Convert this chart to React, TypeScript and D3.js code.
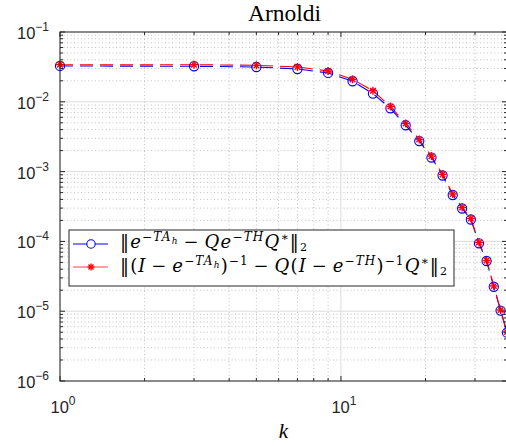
import * as d3 from 'd3'

// k values (odd) and the two error curves
const kValues = [1, 3, 5, 7, 9, 11, 13, 15, 17, 19, 21, 23, 25, 27, 29, 31, 33, 35, 37, 39]
const expError = [
  3.26e-2, 3.23e-2, 3.15e-2, 2.95e-2, 2.59e-2, 1.97e-2, 1.31e-2, 8.07e-3, 4.61e-3, 2.74e-3,
  1.59e-3, 8.79e-4, 4.62e-4, 2.96e-4, 2.06e-4, 9.4e-5, 5.24e-5, 2.24e-5, 1.02e-5, 4.92e-6,
]
const resolventError = [
  3.4e-2, 3.4e-2, 3.33e-2, 3.16e-2, 2.76e-2, 2.1e-2, 1.44e-2, 8.57e-3, 4.89e-3, 2.88e-3,
  1.67e-3, 9.14e-4, 4.78e-4, 3.06e-4, 2.13e-4, 9.64e-5, 5.32e-5, 2.3e-5, 1.04e-5, 5.04e-6,
]

const yTickExps = [-6, -5, -4, -3, -2, -1]
const xTickExps = [0, 1]

// legend labels as math pieces: l = 0 base, 1 superscript, 2 sub of superscript, 3 subscript
type Piece = { t: string; l: number; i?: boolean }
const OP = '\u2009−\u2009'
const legendExp: Piece[] = [
  { t: '‖', l: 0 },
  { t: 'e', l: 0, i: true },
  { t: '−', l: 1 },
  { t: 'TA', l: 1, i: true },
  { t: 'h', l: 2, i: true },
  { t: OP, l: 0 },
  { t: 'Qe', l: 0, i: true },
  { t: '−', l: 1 },
  { t: 'TH', l: 1, i: true },
  { t: 'Q', l: 0, i: true },
  { t: '∗', l: 1 },
  { t: '‖', l: 0 },
  { t: '2', l: 3 },
]
const legendRes: Piece[] = [
  { t: '‖(', l: 0 },
  { t: 'I', l: 0, i: true },
  { t: OP, l: 0 },
  { t: 'e', l: 0, i: true },
  { t: '−', l: 1 },
  { t: 'TA', l: 1, i: true },
  { t: 'h', l: 2, i: true },
  { t: ')', l: 0 },
  { t: '−1', l: 1 },
  { t: OP, l: 0 },
  { t: 'Q', l: 0, i: true },
  { t: '(', l: 0 },
  { t: 'I', l: 0, i: true },
  { t: OP, l: 0 },
  { t: 'e', l: 0, i: true },
  { t: '−', l: 1 },
  { t: 'TH', l: 1, i: true },
  { t: ')', l: 0 },
  { t: '−1', l: 1 },
  { t: 'Q', l: 0, i: true },
  { t: '∗', l: 1 },
  { t: '‖', l: 0 },
  { t: '2', l: 3 },
]

const W = 506
const H = 446
const left = 60
const right = 507
const top = 32
const bottom = 381

const AXIS = '#262626'
const SANS = '"Liberation Sans", Arial, sans-serif'
const SERIF = '"Liberation Serif", "Times New Roman", serif'
const MATH = '"DejaVu Serif", serif'

const levelShift = [0, -7.5, -4, 3]
const levelSize = [18, 12, 9, 11]

function MathText({ x, y, pieces, width }: { x: number; y: number; pieces: Piece[]; width?: number }) {
  let prev = 0
  const fit = width ? { textLength: width, lengthAdjust: 'spacing' } : {}
  return (
    <text x={x} y={y} fontFamily={MATH} fill="#000" style={{ whiteSpace: 'pre' }} {...fit}>
      {pieces.map((p, idx) => {
        const dy = levelShift[p.l] - levelShift[prev]
        prev = p.l
        return (
          <tspan key={idx} dy={dy} fontSize={levelSize[p.l]} fontStyle={p.i ? 'italic' : 'normal'}>
            {p.t}
          </tspan>
        )
      })}
    </text>
  )
}

function Asterisk({ cx, cy, r, color, w }: { cx: number; cy: number; r: number; color: string; w: number }) {
  const d = r * Math.SQRT1_2
  return (
    <g stroke={color} strokeWidth={w}>
      <line x1={cx - r} y1={cy} x2={cx + r} y2={cy} />
      <line x1={cx} y1={cy - r} x2={cx} y2={cy + r} />
      <line x1={cx - d} y1={cy - d} x2={cx + d} y2={cy + d} />
      <line x1={cx - d} y1={cy + d} x2={cx + d} y2={cy - d} />
    </g>
  )
}

export default function App() {
  const x = d3.scaleLog().domain([1, 39]).range([left, right])
  const y = d3.scaleLog().domain([1e-6, 1e-1]).range([bottom, top])

  const xMinor: number[] = []
  for (let m = 2; m <= 9; m++) xMinor.push(m)
  for (let m = 20; m <= 30; m += 10) xMinor.push(m)
  const yMinor: number[] = []
  for (let e = -6; e < -1; e++) for (let m = 2; m <= 9; m++) yMinor.push(m * Math.pow(10, e))

  const line = d3
    .line<number>()
    .x((_, i) => x(kValues[i]))
    .y((d) => y(d))

  return (
    <svg
      width={W}
      height={H}
      viewBox={`0 0 ${W} ${H}`}
      style={{ position: 'absolute', left: 0, top: 0, background: '#fff' }}
    >
      <rect x={0} y={0} width={W} height={H} fill="#fff" />

      {/* minor grid */}
      <g stroke="#b4b4b4" strokeWidth={0.8} strokeDasharray="1,2.5">
        {xMinor.map((v) => (
          <line key={'gx' + v} x1={x(v)} x2={x(v)} y1={top} y2={bottom} />
        ))}
        {yMinor.map((v) => (
          <line key={'gy' + v} x1={left} x2={right} y1={y(v)} y2={y(v)} />
        ))}
      </g>
      {/* major grid */}
      <g stroke="#dcdcdc" strokeWidth={1}>
        {xTickExps.map((e) => (
          <line key={'Gx' + e} x1={x(10 ** e)} x2={x(10 ** e)} y1={top} y2={bottom} />
        ))}
        {yTickExps.map((e) => (
          <line key={'Gy' + e} x1={left} x2={right} y1={y(10 ** e)} y2={y(10 ** e)} />
        ))}
      </g>

      {/* series */}
      <path d={line(expError) ?? ''} fill="none" stroke="#0000ff" strokeWidth={1.1} strokeDasharray="13,7" />
      <path d={line(resolventError) ?? ''} fill="none" stroke="#ff0000" strokeWidth={1.1} strokeDasharray="13,7" />
      {expError.map((v, i) => (
        <circle key={'c' + i} cx={x(kValues[i])} cy={y(v)} r={4.6} fill="none" stroke="#0000ff" strokeWidth={1.1} />
      ))}
      {resolventError.map((v, i) => (
        <Asterisk key={'s' + i} cx={x(kValues[i])} cy={y(v)} r={4} color="#ff0000" w={1.4} />
      ))}

      {/* axes box and ticks */}
      <g stroke={AXIS} strokeWidth={1} fill="none">
        <rect x={left} y={top} width={right - left} height={bottom - top} />
        {xTickExps.map((e) => (
          <g key={'tx' + e}>
            <line x1={x(10 ** e)} x2={x(10 ** e)} y1={bottom} y2={bottom - 5} />
            <line x1={x(10 ** e)} x2={x(10 ** e)} y1={top} y2={top + 5} />
          </g>
        ))}
        {xMinor.map((v) => (
          <g key={'mx' + v}>
            <line x1={x(v)} x2={x(v)} y1={bottom} y2={bottom - 3} />
            <line x1={x(v)} x2={x(v)} y1={top} y2={top + 3} />
          </g>
        ))}
        {yTickExps.map((e) => (
          <g key={'ty' + e}>
            <line x1={left} x2={left + 5} y1={y(10 ** e)} y2={y(10 ** e)} />
            <line x1={right} x2={right - 5} y1={y(10 ** e)} y2={y(10 ** e)} />
          </g>
        ))}
        {yMinor.map((v) => (
          <g key={'my' + v}>
            <line x1={left} x2={left + 3} y1={y(v)} y2={y(v)} />
            <line x1={right} x2={right - 3} y1={y(v)} y2={y(v)} />
          </g>
        ))}
      </g>

      {/* y tick labels */}
      {yTickExps.map((e) => (
        <text key={'ly' + e} x={49} y={y(10 ** e) + 7} textAnchor="end" fontFamily={SANS} fill={AXIS}>
          <tspan fontSize={16.5}>10</tspan>
          <tspan fontSize={12} dy={-8}>
            {e < 0 ? '−' + Math.abs(e) : String(e)}
          </tspan>
        </text>
      ))}
      {/* x tick labels */}
      {xTickExps.map((e) => (
        <text key={'lx' + e} x={x(10 ** e) + 3} y={413} textAnchor="middle" fontFamily={SANS} fill={AXIS}>
          <tspan fontSize={16.5}>10</tspan>
          <tspan fontSize={12} dy={-8}>
            {String(e)}
          </tspan>
        </text>
      ))}

      <text x={(left + right) / 2} y={438} textAnchor="middle" fontFamily={SERIF} fontStyle="italic" fontSize={21}>
        k
      </text>
      <text x={(left + right) / 2 + 1} y={21} textAnchor="middle" fontFamily={SERIF} fontSize={23.5}>
        Arnoldi
      </text>

      {/* legend */}
      <rect x={69} y={230} width={385} height={56} fill="#fff" stroke={AXIS} strokeWidth={1} />
      <line x1={73} x2={108} y1={244} y2={244} stroke="#0000ff" strokeWidth={1.1} />
      <circle cx={91} cy={244} r={4.2} fill="#fff" stroke="#0000ff" strokeWidth={1.1} />
      <line x1={73} x2={108} y1={267} y2={267} stroke="#ff3030" strokeWidth={0.9} />
      <Asterisk cx={91} cy={267} r={3.5} color="#ff0000" w={1.4} />
      <MathText x={120} y={248} pieces={legendExp} width={187} />
      <MathText x={120} y={272} pieces={legendRes} width={327} />
    </svg>
  )
}
